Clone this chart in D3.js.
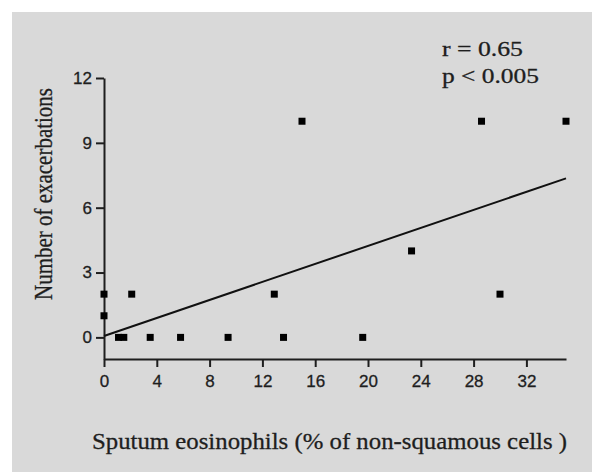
<!DOCTYPE html>
<html>
<head>
<meta charset="utf-8">
<script src="https://cdn.jsdelivr.net/npm/d3@7"></script>
<style>
  body { margin: 0; background: #fff; }
  svg { display: block; }
</style>
</head>
<body>
<div class="chart"></div>
<script>
// sputum eosinophils (%) vs number of exacerbations
let eosinophils   = [0, 0, 2.1, 1.1, 1.5, 3.5, 5.8, 9.4, 12.9, 13.6, 15, 19.6, 23.3, 28.6, 30, 35];
let exacerbations = [2, 1, 2,   0,   0,   0,   0,   0,   2,    0,    10, 0,    4,    10,   2,  10];
let xTicks = [0, 4, 8, 12, 16, 20, 24, 28, 32];
let yTicks = [0, 3, 6, 9, 12];
let stats  = ["r = 0.65", "p < 0.005"];

let points = eosinophils.map((x, i) => ({ x: x, y: exacerbations[i] }));

let W = 592, H = 472;
let ink = "#1e1e1e";

let svg = d3.select(".chart")
    .append("svg")
        .attr("width", W)
        .attr("height", H);

// grey panel
svg.append("rect")
    .attr("x", 12).attr("y", 12)
    .attr("width", W - 12).attr("height", H - 12)
    .attr("fill", "#d9d9d9");

let xScale = d3.scaleLinear()
    .domain([0, 35])
    .range([104, 566]);

let yScale = d3.scaleLinear()
    .domain([-1, 12])
    .range([359, 78]);

let xAxis = d3.axisBottom(xScale)
    .tickValues(xTicks)
    .tickSize(8)
    .tickSizeOuter(0)
    .tickPadding(8);

let yAxis = d3.axisLeft(yScale)
    .tickValues(yTicks)
    .tickSize(8)
    .tickSizeOuter(0)
    .tickPadding(4);

let gx = svg.append("g")
    .attr("transform", `translate(0, ${yScale(-1)})`)
    .call(xAxis);

let gy = svg.append("g")
    .attr("transform", `translate(${xScale(0)}, 0)`)
    .call(yAxis);

[gx, gy].forEach(g => {
    g.attr("font-family", "Liberation Sans, Arial, sans-serif").attr("font-size", 17);
    g.select(".domain").attr("stroke", ink).attr("stroke-width", 2);
    g.selectAll(".tick line").attr("stroke", ink).attr("stroke-width", 2);
    g.selectAll(".tick text")
        .attr("fill", ink)
        .attr("stroke", ink)
        .attr("stroke-width", 0.3);
});

// least-squares fit line
let mx = d3.mean(points, d => d.x), my = d3.mean(points, d => d.y);
let sxy = d3.sum(points, d => (d.x - mx) * (d.y - my));
let sxx = d3.sum(points, d => (d.x - mx) * (d.x - mx));
let slope = sxy / sxx, icpt = my - slope * mx;
let fit = [0, 35].map(x => ({ x: x, y: icpt + slope * x }));

svg.append("path")
    .datum(fit)
    .attr("fill", "none")
    .attr("stroke", "#111")
    .attr("stroke-width", 2)
    .attr("d", d3.line().x(d => xScale(d.x)).y(d => yScale(d.y)));

let s = 7;
svg.selectAll("rect.pt")
    .data(points)
    .enter()
    .append("rect")
    .attr("class", "pt")
    .attr("x", d => xScale(d.x) - s / 2)
    .attr("y", d => yScale(d.y) - s / 2)
    .attr("width", s)
    .attr("height", s)
    .attr("fill", "#000");

let serif = "Liberation Serif, Times New Roman, serif";

let label = (sel, size) => sel
    .attr("font-family", serif)
    .attr("font-size", size)
    .attr("lengthAdjust", "spacingAndGlyphs")
    .attr("fill", ink)
    .attr("stroke", ink)
    .attr("stroke-width", 0.3);

svg.append("text")
    .attr("x", 92).attr("y", 449)
    .attr("textLength", 475)
    .call(label, 24)
    .text("Sputum eosinophils (% of non-squamous cells )");

svg.append("text")
    .attr("transform", "translate(52, 194) rotate(-90)")
    .attr("text-anchor", "middle")
    .attr("textLength", 212)
    .call(label, 25)
    .text("Number of exacerbations");

svg.selectAll("text.stat")
    .data(stats)
    .enter()
    .append("text")
    .attr("class", "stat")
    .attr("x", 442)
    .attr("y", (d, i) => 56 + i * 27)
    .attr("textLength", (d, i) => i ? 97 : 81)
    .call(label, 21)
    .text(d => d);
</script>
</body>
</html>
